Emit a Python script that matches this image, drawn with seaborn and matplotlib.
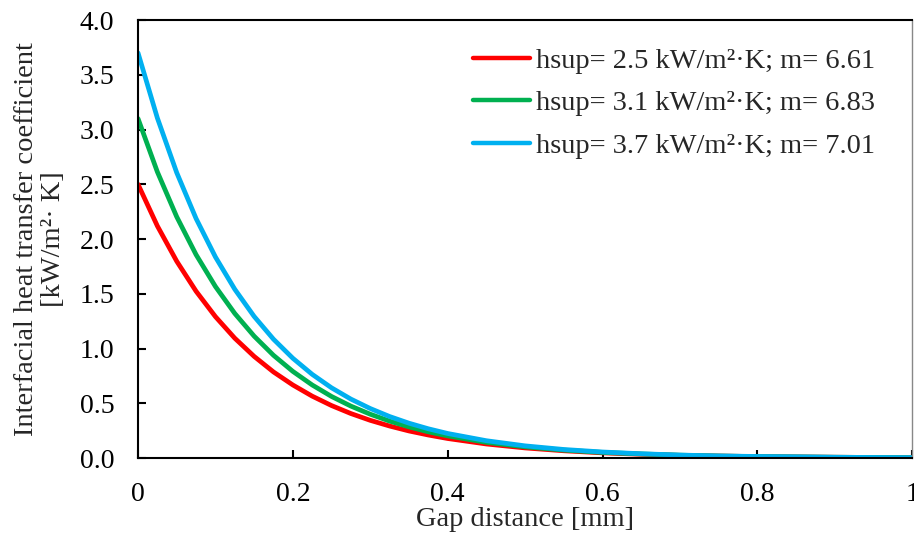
import matplotlib
matplotlib.use("Agg")
import matplotlib.pyplot as plt
import seaborn as sns
import pandas as pd

# Gap distance [mm]
gap = [0.0, 0.025, 0.05, 0.075, 0.1, 0.125, 0.15, 0.175, 0.2, 0.225, 0.25, 0.275, 0.3,
       0.325, 0.35, 0.375, 0.4, 0.45, 0.5, 0.55, 0.6, 0.65, 0.7, 0.75, 0.8, 0.9, 1.0]
# Interfacial heat transfer coefficient [kW/m²·K]
h_red = [2.50, 2.119, 1.797, 1.523, 1.291, 1.094, 0.928, 0.786, 0.667, 0.565, 0.479, 0.406, 0.344,
         0.292, 0.247, 0.210, 0.178, 0.128, 0.092, 0.066, 0.047, 0.034, 0.024, 0.018, 0.013, 0.007, 0.003]
h_green = [3.10, 2.613, 2.203, 1.857, 1.566, 1.320, 1.113, 0.938, 0.791, 0.667, 0.562, 0.474, 0.400,
           0.337, 0.284, 0.239, 0.202, 0.143, 0.102, 0.072, 0.051, 0.037, 0.026, 0.018, 0.013, 0.007, 0.003]
h_blue = [3.70, 3.105, 2.606, 2.187, 1.836, 1.541, 1.293, 1.085, 0.911, 0.764, 0.641, 0.538, 0.452,
          0.379, 0.318, 0.267, 0.224, 0.158, 0.111, 0.078, 0.055, 0.039, 0.027, 0.019, 0.014, 0.007, 0.003]

series_labels = ["hsup= 2.5 kW/m²·K; m= 6.61",
                 "hsup= 3.1 kW/m²·K; m= 6.83",
                 "hsup= 3.7 kW/m²·K; m= 7.01"]
colors = ["#FF0000", "#00B050", "#00B0F0"]

x_ticks = [0, 0.2, 0.4, 0.6, 0.8, 1.0]
x_tick_labels = ["0", "0.2", "0.4", "0.6", "0.8", "1"]
y_ticks = [0.0, 0.5, 1.0, 1.5, 2.0, 2.5, 3.0, 3.5, 4.0]
y_tick_labels = ["0.0", "0.5", "1.0", "1.5", "2.0", "2.5", "3.0", "3.5", "4.0"]

rows = []
for lab, ys in zip(series_labels, [h_red, h_green, h_blue]):
    for xv, yv in zip(gap, ys):
        rows.append({"gap": xv, "h": yv, "series": lab})
df = pd.DataFrame(rows)

sns.set_style("ticks")
plt.rcParams["font.family"] = ["Liberation Serif", "DejaVu Serif"]

fig = plt.figure(figsize=(9.14, 5.41), dpi=100)
ax = fig.add_axes([0.151, 0.1534, 0.847, 0.8096])

sns.lineplot(data=df, x="gap", y="h", hue="series", palette=colors,
             linewidth=3.4, ax=ax, legend=True)
for ln in ax.get_lines():
    ln.set_solid_joinstyle("round")
    ln.set_solid_capstyle("round")

ax.set_xlim(0, 1)
ax.set_ylim(0, 4)
ax.set_xticks(x_ticks)
ax.set_xticklabels(x_tick_labels)
ax.set_yticks(y_ticks)
ax.set_yticklabels(y_tick_labels)
ax.tick_params(axis="both", direction="in", length=6, width=1.5,
               labelsize=20, colors="black")
ax.tick_params(axis="x", pad=17)
ax.tick_params(axis="y", pad=17)
for s in ["left", "bottom", "top"]:
    ax.spines[s].set_visible(True)
    ax.spines[s].set_linewidth(1.5)
    ax.spines[s].set_color("black")
ax.spines["right"].set_visible(True)
ax.spines["right"].set_linewidth(1.0)
ax.spines["right"].set_color("#888888")

ax.set_xlabel("Gap distance [mm]", fontsize=20.5, labelpad=0)
ax.set_ylabel("Interfacial heat transfer coefficient\n[kW/m²· K]", fontsize=20.5,
              labelpad=10, linespacing=1.1)

leg = ax.legend(loc="upper right", frameon=False, fontsize=20.5,
                handlelength=2.0, handletextpad=0.2, labelspacing=0.58,
                bbox_to_anchor=(0.985, 0.995))
for line in leg.get_lines():
    line.set_linewidth(3.2)

fig.savefig("out.png", dpi=100)
